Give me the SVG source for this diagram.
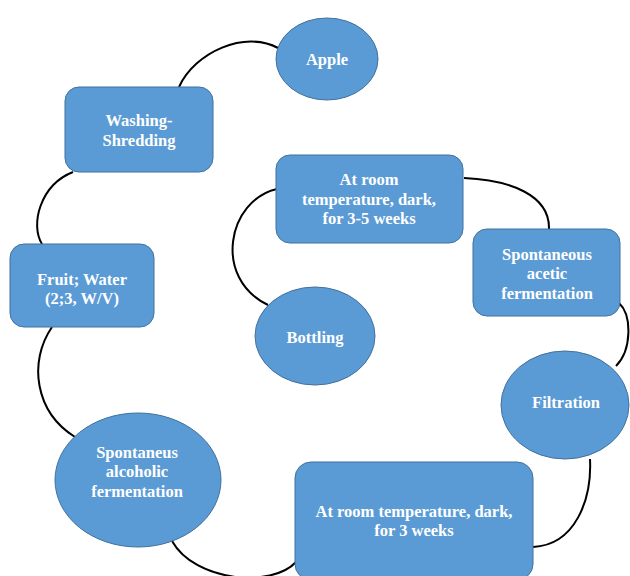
<svg xmlns="http://www.w3.org/2000/svg" width="630" height="576" viewBox="0 0 630 576">
  <style>
    .node { fill: #5B9BD5; stroke: #41719C; stroke-width: 1; }
    .label { fill: #FFFFFF; font-family: "Liberation Serif", "Times New Roman", serif; font-weight: bold; font-size: 16.5px; text-anchor: middle; }
    .link { fill: none; stroke: #000000; stroke-width: 2; }
  </style>
  <rect width="630" height="576" fill="#FFFFFF"/>

  <!-- curved links between the process steps -->
  <g id="connectors">
    <path class="link" d="M179,87 C195,52 245,30 278,48"/>
    <path class="link" d="M73,172 C40,185 30,225 42,244"/>
    <path class="link" d="M52,327 C28,362 35,412 75,437"/>
    <path class="link" d="M172,541 C195,582 272,588 296,562"/>
    <path class="link" d="M533,547 C575,545 592,500 590,459"/>
    <path class="link" d="M616,366 C632,350 632,315 619,303"/>
    <path class="link" d="M549,229 C550,195 510,180 464,178"/>
    <path class="link" d="M277,189 C228,200 212,278 268,305"/>
  </g>

  <g id="apple">
    <ellipse class="node" cx="327" cy="59" rx="51" ry="41"/>
    <text class="label" x="327" y="65">Apple</text>
  </g>

  <g id="washing-shredding">
    <rect class="node" x="65" y="87" width="148" height="85" rx="14"/>
    <text class="label" x="139" y="126">Washing-</text>
    <text class="label" x="139" y="146">Shredding</text>
  </g>

  <g id="fruit-water">
    <rect class="node" x="10" y="244" width="144" height="83" rx="14"/>
    <text class="label" x="82" y="285">Fruit; Water</text>
    <text class="label" x="82" y="304">(2;3, W/V)</text>
  </g>

  <g id="alcoholic-fermentation">
    <ellipse class="node" cx="138" cy="480" rx="83" ry="67"/>
    <text class="label" x="137" y="458">Spontaneus</text>
    <text class="label" x="137" y="477">alcoholic</text>
    <text class="label" x="137" y="497">fermentation</text>
  </g>

  <g id="room-temp-3-weeks">
    <rect class="node" x="295" y="462" width="238" height="118" rx="16"/>
    <text class="label" x="414" y="517">At room temperature, dark,</text>
    <text class="label" x="414" y="536">for 3 weeks</text>
  </g>

  <g id="filtration">
    <ellipse class="node" cx="565" cy="405" rx="64" ry="54"/>
    <text class="label" x="566" y="408">Filtration</text>
  </g>

  <g id="acetic-fermentation">
    <rect class="node" x="473" y="229" width="147" height="87" rx="14"/>
    <text class="label" x="547" y="260">Spontaneous</text>
    <text class="label" x="547" y="279">acetic</text>
    <text class="label" x="547" y="299">fermentation</text>
  </g>

  <g id="room-temp-3-5-weeks">
    <rect class="node" x="276" y="155" width="187" height="88" rx="14"/>
    <text class="label" x="369" y="185">At room</text>
    <text class="label" x="369" y="205">temperature, dark,</text>
    <text class="label" x="369" y="224">for 3-5 weeks</text>
  </g>

  <g id="bottling">
    <ellipse class="node" cx="315" cy="336" rx="60" ry="49"/>
    <text class="label" x="315" y="343">Bottling</text>
  </g>
</svg>
